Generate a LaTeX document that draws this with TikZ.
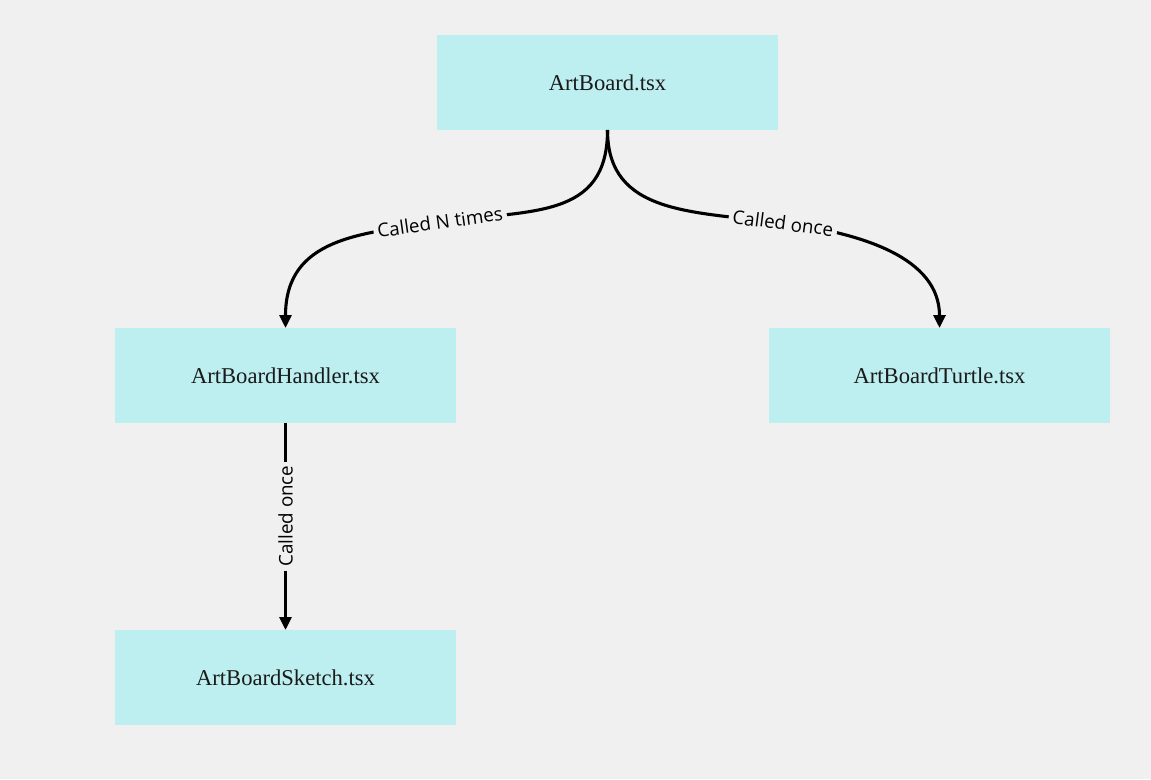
\documentclass[tikz,border=0pt]{standalone}
\usepackage{fontspec}
\setmainfont{Liberation Serif}
\newfontfamily\lblfont{Open Sans}
\usetikzlibrary{arrows.meta}
\definecolor{bgc}{HTML}{F0F0F0}
\definecolor{boxc}{HTML}{BDEEF0}
\definecolor{txtc}{HTML}{1A1A1A}
\tikzset{
  filebox/.style={rectangle, fill=boxc, minimum width=341pt, minimum height=95pt, inner sep=0pt, outer sep=0pt, text=txtc, font=\fontsize{22.6}{24}\selectfont},
  link/.style={line width=3.1pt, -{Triangle[length=13pt,width=12pt]}},
  lbl/.style={fill=bgc, inner xsep=4pt, inner ysep=2pt, text=black, font=\lblfont\fontsize{18.8}{21}\selectfont}
}
\begin{document}
\begin{tikzpicture}[x=1pt,y=-1pt]
\fill[bgc] (0,0) rectangle (1151,779);
\useasboundingbox (0,0) rectangle (1151,779);
\node[filebox] (top) at (607.5,82.5) {ArtBoard.tsx};
\node[filebox] (left) at (285.5,375.5) {ArtBoardHandler.tsx};
\node[filebox] (right) at (939.5,375.5) {ArtBoardTurtle.tsx};
\node[filebox] (bottom) at (285.5,677.5) {ArtBoardSketch.tsx};
\coordinate (mL) at (440,222);
\coordinate (mR) at (783,223);
\draw[link] (top.south) .. controls +(0,90) and +(90,-12.6) .. (mL)
  node[lbl, pos=1, sloped] {Called N times}
  .. controls +(-80,11.2) and +(0,-90) .. (left.north);
\draw[link] (top.south) .. controls +(0,85) and +(-90,-11.7) .. (mR)
  node[lbl, pos=1, sloped] {Called once}
  .. controls +(80,10.4) and +(0,-70) .. (right.north);
\draw[link] (left.south) -- (bottom.north)
  node[lbl, pos=0.45, rotate=90] {Called once};
\end{tikzpicture}
\end{document}
